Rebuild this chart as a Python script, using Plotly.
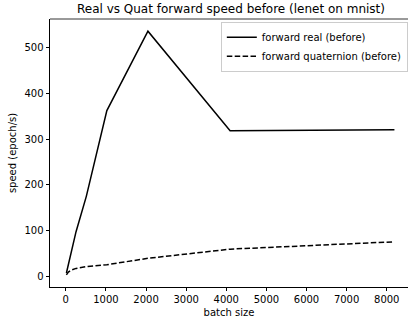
import plotly.graph_objects as go

batch_size = [16, 32, 64, 128, 256, 512, 1024, 2048, 4096, 8192]
forward_real = [8, 14, 26, 50, 98, 175, 362, 535, 318, 320]
forward_quat = [4, 7, 10, 14, 18, 22, 26, 40, 60, 76]
x_ticks = [0, 1000, 2000, 3000, 4000, 5000, 6000, 7000, 8000]
y_ticks = [0, 100, 200, 300, 400, 500]

FONT = "DejaVu Sans"

fig = go.Figure()
fig.add_trace(go.Scatter(x=batch_size, y=forward_real, mode="lines",
                         name="forward real (before)",
                         line=dict(color="black", width=1.5)))
fig.add_trace(go.Scatter(x=batch_size, y=forward_quat, mode="lines",
                         name="forward quaternion (before)",
                         line=dict(color="black", width=1.5, dash="5.5px,2.4px")))

axis_common = dict(showgrid=False, zeroline=False, showline=True, linecolor="black",
                   linewidth=0.8, ticks="outside", ticklen=3.5, tickwidth=0.8,
                   tickcolor="black", tickfont=dict(family=FONT, size=10, color="black"))

fig.update_layout(
    width=408, height=326,
    margin=dict(l=50, r=0, t=19, b=39),
    plot_bgcolor="white", paper_bgcolor="white",
    font=dict(family=FONT, size=10, color="black"),
    title=dict(text="Real vs Quat forward speed before (lenet on mnist)",
               font=dict(family=FONT, size=12, color="black"),
               x=231/408, xanchor="center", xref="container",
               y=1 - 8.5/326, yanchor="middle", yref="container"),
    xaxis=dict(range=[-393, 8530], tickvals=x_ticks,
               title=dict(text="batch size", font=dict(family=FONT, size=10), standoff=4),
               **axis_common),
    yaxis=dict(range=[-22.5, 561.5], tickvals=y_ticks,
               title=dict(text="speed (epoch/s)", font=dict(family=FONT, size=10), standoff=6),
               **axis_common),
    legend=dict(x=0.9995, xanchor="right", y=0.99, yanchor="top",
                bgcolor="rgba(255,255,255,0.8)", bordercolor="#cccccc", borderwidth=1,
                font=dict(family=FONT, size=10, color="black"), tracegroupgap=0),
    showlegend=True,
)
fig.add_shape(type="line", xref="paper", yref="paper", x0=0, x1=1, y0=1, y1=1,
              line=dict(color="black", width=0.8))

fig.write_html("out.html")
